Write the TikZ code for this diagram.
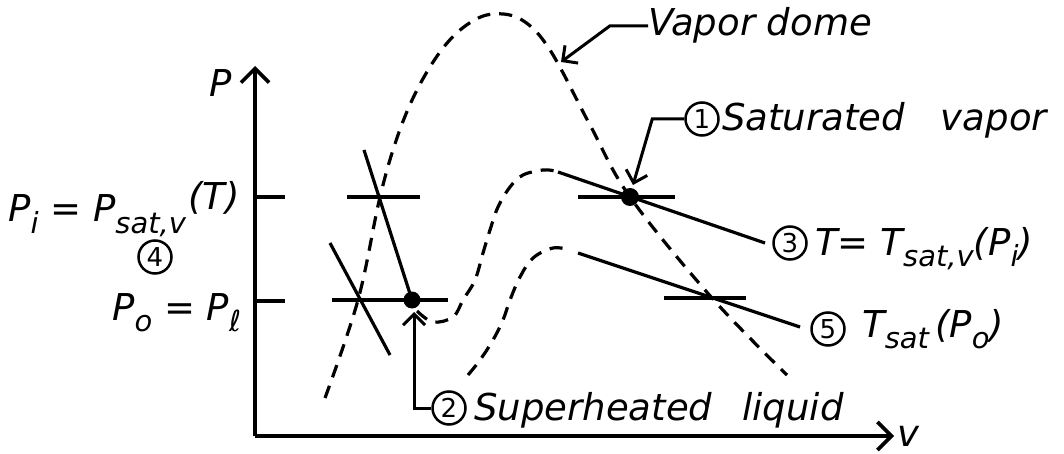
\documentclass[tikz,border=0pt]{standalone}
\usepackage{fontspec}
\setmainfont{DejaVu Sans}
\usetikzlibrary{arrows.meta}
\newcommand{\sbx}[1]{\raisebox{-0.3em}{\fontsize{29}{29}\selectfont #1}}
\newcommand{\spx}[1]{\raisebox{0.35em}{#1}}
\begin{document}
\begin{tikzpicture}[x=1pt,y=-1pt,
  axisln/.style={line width=3.6pt,-{Straight Barb[length=14pt,width=28pt]}},
  solidln/.style={line width=3.2pt},
  dashln/.style={line width=3.2pt,dash pattern=on 13pt off 9pt},
  ptr/.style={line width=3pt,-{Straight Barb[length=11pt,width=22pt]}},
  lbl/.style={font=\fontsize{37}{42}\selectfont\itshape,inner sep=0pt},
  circnum/.style={circle,draw,line width=2.5pt,minimum size=33pt,inner sep=0pt,font=\fontsize{26}{26}\selectfont}]
\useasboundingbox (0,0) rectangle (1064,454);
% axes
\coordinate (O) at (255,436);
\coordinate (ptip) at (255,66);
\coordinate (vtip) at (894,436);
\draw[axisln] (O) -- (ptip);
\draw[axisln] (O) -- (vtip);
\node[lbl,anchor=base] (plab) at (221,97) {P};
\node[lbl,anchor=base] (vlab) at (908,446) {v};
% ticks
\coordinate (t1a) at (255,197); \coordinate (t1b) at (285,197);
\coordinate (t2a) at (255,301); \coordinate (t2b) at (285,301);
\draw[solidln] (t1a) -- (t1b);
\draw[solidln] (t2a) -- (t2b);
% left labels
\node[lbl,anchor=base west] (pil) at (8,222) {P\sbx{i} = P\sbx{sat,v}\hspace{2pt}\spx{(T)}};
\node[circnum] (c4) at (155,257) {4};
\node[lbl,anchor=base west] (pol) at (112,320) {P\sbx{o} = P\sbx{ℓ}};
% vapor dome
\draw[dashln] plot[smooth,tension=0.6] coordinates {(325,398) (358,300) (380,197) (398,135) (418,88) (443,48) (468,24) (493,14) (522,20) (550,50) (590,125) (630,197) (712,298) (787,375)};
% isotherm 3
\draw[dashln] plot[smooth,tension=0.6] coordinates {(417,311) (433,322) (453,317) (463,300) (475,280) (483,253) (490,230) (498,207) (510,187) (523,175) (543,170) (555,171)};
\coordinate (i3a) at (558,172);
\coordinate (i3b) at (765,243);
\draw[solidln] (i3a) -- (i3b);
% isotherm 5
\draw[dashln] plot[smooth,tension=0.6] coordinates {(468,375) (480,360) (493,340) (503,320) (510,300) (520,277) (533,258) (553,248) (570,250)};
\coordinate (i5a) at (578,253);
\coordinate (i5b) at (800,327);
\draw[solidln] (i5a) -- (i5b);
% steep liquid lines
\coordinate (s1a) at (364,150);
\coordinate (s1b) at (412,300);
\draw[solidln] (s1a) -- (s1b);
\coordinate (s2a) at (330,243);
\coordinate (s2b) at (390,355);
\draw[solidln] (s2a) -- (s2b);
% horizontal pressure lines
\coordinate (h1a) at (347,197); \coordinate (h1b) at (420,197);
\coordinate (h2a) at (332,300); \coordinate (h2b) at (448,300);
\coordinate (h3a) at (578,197); \coordinate (h3b) at (675,197);
\coordinate (h4a) at (664,298); \coordinate (h4b) at (746,298);
\draw[solidln] (h1a) -- (h1b);
\draw[solidln] (h2a) -- (h2b);
\draw[solidln] (h3a) -- (h3b);
\draw[solidln] (h4a) -- (h4b);
% state points
\node[circle,fill,inner sep=0pt,minimum size=18pt] (p1) at (630,197) {};
\node[circle,fill,inner sep=0pt,minimum size=17pt] (p2) at (412,300) {};
% annotations
\node[lbl,anchor=base west] (vd) at (648,36) {Vapor dome};
\coordinate (vdtip) at (561,62);
\draw[ptr] (vd.west) -- ++(-38,0) -- (vdtip);
\node[circnum] (c1) at (702,119) {1};
\node[lbl,anchor=base west] (sv) at (722,131) {Saturated\hspace{36pt}vapor};
\coordinate (p1tip) at (633,185);
\draw[ptr] (c1.west) -- ++(-32,0) -- (p1tip);
\node[circnum] (c2) at (449,408) {2};
\node[lbl,anchor=base west] (sl) at (474,420) {Superheated\hspace{30pt}liquid};
\coordinate (p2tip) at (414,312);
\draw[ptr] (c2.west) -| (p2tip);
\node[circnum] (c3) at (790,243) {3};
\node[lbl,anchor=base west] (t3) at (815,255) {T= T\sbx{sat,v}(P\sbx{i})};
\node[circnum] (c5) at (828,329) {5};
\node[lbl,anchor=base west] (t5) at (862,337) {T\sbx{sat}\,(P\sbx{o})};
\end{tikzpicture}
\end{document}
